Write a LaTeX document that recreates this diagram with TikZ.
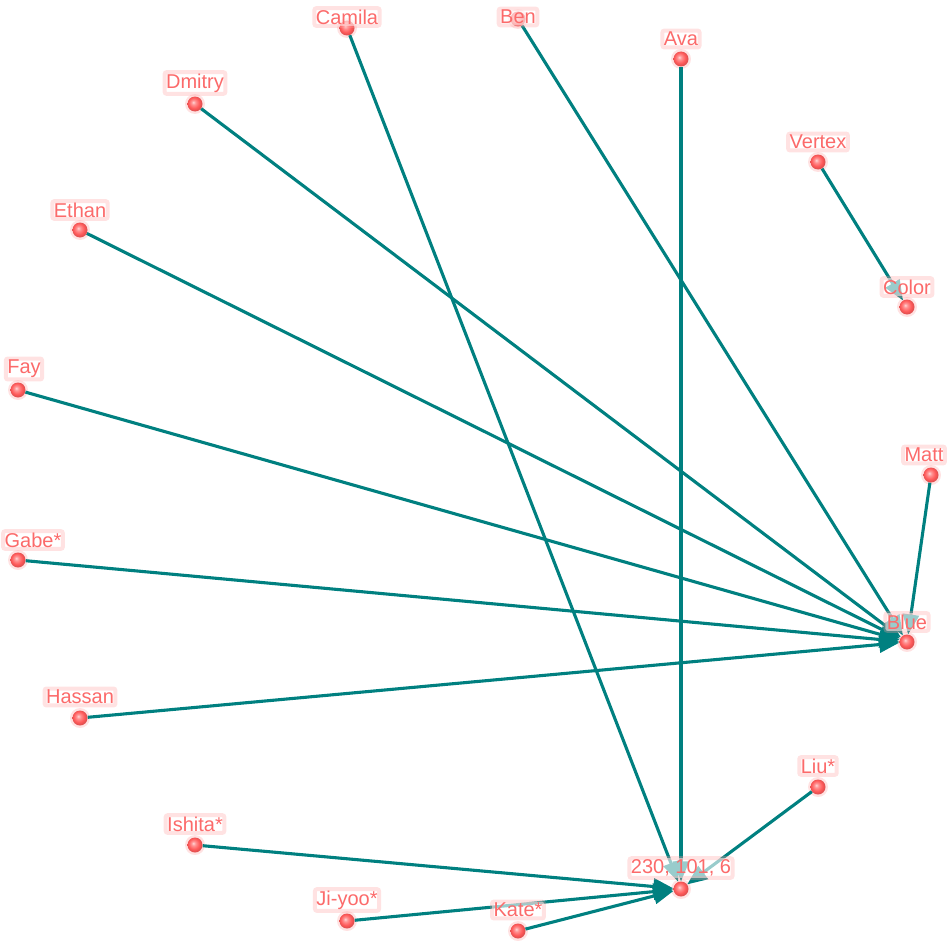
\documentclass[tikz,border=0pt]{standalone}
\usepackage{fontspec}
\setmainfont{Liberation Sans}
\usetikzlibrary{arrows.meta}
\pgfdeclarelayer{background}
\pgfsetlayers{background,main}
\definecolor{edgeteal}{RGB}{0,128,128}
\definecolor{lbltext}{RGB}{252,106,106}
\definecolor{lblglow}{RGB}{255,160,160}
\definecolor{ballred}{RGB}{255,90,90}
\pgfdeclareradialshading{redball}{\pgfpoint{-6bp}{6bp}}{%
  color(0bp)=(white!75!ballred);
  color(7bp)=(white!35!ballred);
  color(18bp)=(ballred);
  color(25bp)=(ballred!88!black);
  color(50bp)=(ballred!88!black)}
\tikzset{
  vtx/.style={circle, minimum size=15pt, inner sep=0pt, shading=redball},
  halo/.style={fill=lblglow, fill opacity=0.3},
  lbl/.style={font=\fontsize{20}{20}\selectfont, text=lbltext, fill=white, fill opacity=0.6, text opacity=1,
    draw=lblglow, draw opacity=0.3, line width=4pt, rounded corners=2pt, inner sep=1.5pt},
  edge/.style={draw=edgeteal, line width=3.1pt, -{Triangle[length=20pt,width=16pt]}}
}
\begin{document}
\begin{tikzpicture}[x=1pt,y=-1pt]
\useasboundingbox (0,0) rectangle (950,950);
% vertices
\node[vtx] (Camila) at (347,28) {};
\node[vtx] (Ben) at (518,19) {};
\node[vtx] (Ava) at (681,59) {};
\node[vtx] (Dmitry) at (195,104) {};
\node[vtx] (Vertex) at (818,162) {};
\node[vtx] (Ethan) at (80,230) {};
\node[vtx] (Color) at (907,307) {};
\node[vtx] (Fay) at (18,390) {};
\node[vtx] (Matt) at (931,475) {};
\node[vtx] (Gabe) at (18,560) {};
\node[vtx] (Blue) at (907,642) {};
\node[vtx] (Hassan) at (80,718) {};
\node[vtx] (Liu) at (818,787) {};
\node[vtx] (Ishita) at (195,845) {};
\node[vtx] (T) at (681,889) {};
\node[vtx] (Jiyoo) at (347,921) {};
\node[vtx] (Kate) at (518,931) {};
% edges
\begin{pgfonlayer}{background}
\foreach \n in {Camila,Ben,Ava,Dmitry,Vertex,Ethan,Color,Fay,Matt,Gabe,Blue,Hassan,Liu,Ishita,T,Jiyoo,Kate}
  \fill[halo] (\n.center) circle (10);
\draw[edge] (Vertex) -- (Color);
\draw[edge] (Matt) -- (Blue);
\draw[edge] (Ben) -- (Blue);
\draw[edge] (Dmitry) -- (Blue);
\draw[edge] (Ethan) -- (Blue);
\draw[edge] (Fay) -- (Blue);
\draw[edge] (Gabe) -- (Blue);
\draw[edge] (Hassan) -- (Blue);
\draw[edge] (Camila) -- (T);
\draw[edge] (Ava) -- (T);
\draw[edge] (Liu) -- (T);
\draw[edge] (Ishita) -- (T);
\draw[edge] (Jiyoo) -- (T);
\draw[edge] (Kate) -- (T);
\end{pgfonlayer}
% labels
\node[lbl] (lCamila) at (347,17) {Camila};
\node[lbl] (lBen) at (518,17) {Ben};
\node[lbl] (lAva) at (681,39) {Ava};
\node[lbl] (lDmitry) at (195,83) {Dmitry};
\node[lbl] (lVertex) at (818,142) {Vertex};
\node[lbl] (lEthan) at (80,210) {Ethan};
\node[lbl] (lColor) at (907,287) {Color};
\node[lbl] (lFay) at (24,369) {Fay};
\node[lbl] (lMatt) at (924,455) {Matt};
\node[lbl] (lGabe) at (33,540) {Gabe*};
\node[lbl] (lBlue) at (907,622) {Blue};
\node[lbl] (lHassan) at (80,697) {Hassan};
\node[lbl] (lLiu) at (818,766) {Liu*};
\node[lbl] (lIshita) at (195,824) {Ishita*};
\node[lbl] (lT) at (681,868) {230, 101, 6};
\node[lbl] (lJiyoo) at (347,900) {Ji-yoo*};
\node[lbl] (lKate) at (518,910) {Kate*};
\end{tikzpicture}
\end{document}
